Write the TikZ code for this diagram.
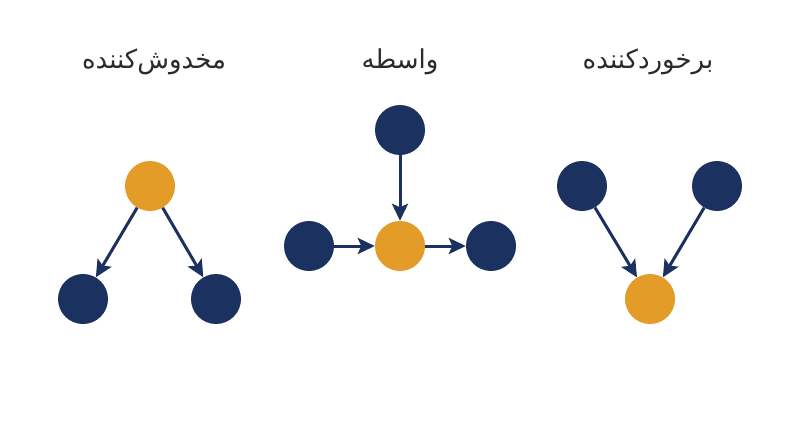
\documentclass[tikz,border=0pt]{standalone}
\usepackage{fontspec}
\newfontfamily\arabicfont[Script=Arabic]{DejaVu Sans}
\TeXXeTstate=1
\usetikzlibrary{arrows.meta}
\definecolor{navy}{HTML}{1B3160}
\definecolor{amber}{HTML}{E29C27}
\definecolor{ink}{HTML}{2B2B2B}
\tikzset{
  dot/.style={circle, minimum size=50pt, inner sep=0pt, draw=none},
  bluedot/.style={dot, fill=navy},
  orangedot/.style={dot, fill=amber},
  edge/.style={draw=navy, line width=3pt, -{Stealth[length=17pt,width=16pt,inset=3.5pt]}},
  title/.style={font=\arabicfont\fontsize{26}{30}\selectfont, text=ink, anchor=center}
}
\begin{document}
\begin{tikzpicture}[x=1pt,y=-1pt]
\useasboundingbox (0,0) rectangle (800,447);
\fill[white] (0,0) rectangle (800,447);
% titles
\node[title] (t1) at (154,62) {\beginR مخدوش‌کننده\endR};
\node[title] (t2) at (400,62) {\beginR واسطه\endR};
\node[title] (t3) at (648,62) {\beginR برخوردکننده\endR};
% confounder
\node[orangedot] (c) at (150,186) {};
\node[bluedot] (cl) at (83,299) {};
\node[bluedot] (cr) at (216,299) {};
\draw[edge] (c) -- (cl);
\draw[edge] (c) -- (cr);
% mediator
\node[bluedot] (mt) at (400,130) {};
\node[orangedot] (m) at (400,246) {};
\node[bluedot] (ml) at (309,246) {};
\node[bluedot] (mr) at (491,246) {};
\draw[edge] (mt) -- (m);
\draw[edge] (ml) -- (m);
\draw[edge] (m) -- (mr);
% collider
\node[bluedot] (kl) at (582,186) {};
\node[bluedot] (kr) at (717,186) {};
\node[orangedot] (k) at (650,299) {};
\draw[edge] (kl) -- (k);
\draw[edge] (kr) -- (k);
\end{tikzpicture}
\end{document}
